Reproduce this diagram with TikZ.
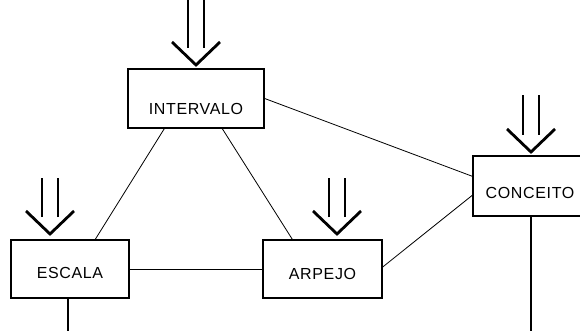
\documentclass[tikz,border=0pt]{standalone}
\usepackage{fontspec}
\setmainfont{Liberation Sans}[LetterSpace=4]
\usetikzlibrary{calc}
\begin{document}
\begin{tikzpicture}[x=1pt,y=-1pt,
  box/.style={draw, line width=1.4pt, inner sep=0pt, text depth=0pt,
    font=\fontsize{16}{16}\selectfont},
  link/.style={line width=0.8pt},
  stem/.style={line width=1.4pt},
  pics/drop/.style={code={
    \draw[line width=2.8pt, line cap=butt] (-8,-17) -- (-8,#1) (8,-17) -- (8,#1);
    \draw[line width=2.8pt, line join=miter] (-24,-23) -- (0,0) -- (24,-23);
  }}
]
\useasboundingbox (0,0) rectangle (580,331);
\fill[white] (0,0) rectangle (580,331);
\clip (0,0) rectangle (580,331);

% concept boxes
\node[box, minimum width=136pt, minimum height=59pt, text height=31.5pt]
  (intervalo) at (196,98.5) {INTERVALO};
\node[box, minimum width=118pt, minimum height=58pt, text height=19.5pt]
  (escala) at (70,269) {ESCALA};
\node[box, minimum width=119pt, minimum height=58pt, text height=20.5pt]
  (arpejo) at (322.5,269) {ARPEJO};
\node[box, minimum width=114pt, minimum height=60pt, text height=24.5pt]
  (conceito) at (530,186) {CONCEITO};

% links between boxes
\draw[link] ([xshift=37pt]intervalo.south west) -- ([xshift=85pt]escala.north west);
\draw[link] ([xshift=95pt]intervalo.south west) -- ([xshift=30pt]arpejo.north west);
\draw[link] (escala.east) -- (arpejo.west);
\draw[link] (intervalo.east) -- ([yshift=-21pt]conceito.north west);
\draw[link] ([yshift=2pt]arpejo.east) -- ([yshift=-40pt]conceito.north west);

% stems leaving the lower edge
\coordinate (escalaend) at (68,335);
\coordinate (conceitoend) at (531,335);
\draw[stem] ([xshift=-2pt]escala.south) -- (escalaend);
\draw[stem] ([xshift=1pt]conceito.south) -- (conceitoend);

% input arrows
\pic at (196,65) {drop=-70};
\pic at (50,234) {drop=-56};
\pic at (337,234) {drop=-56};
\pic at (531,152) {drop=-57};
\end{tikzpicture}
\end{document}
